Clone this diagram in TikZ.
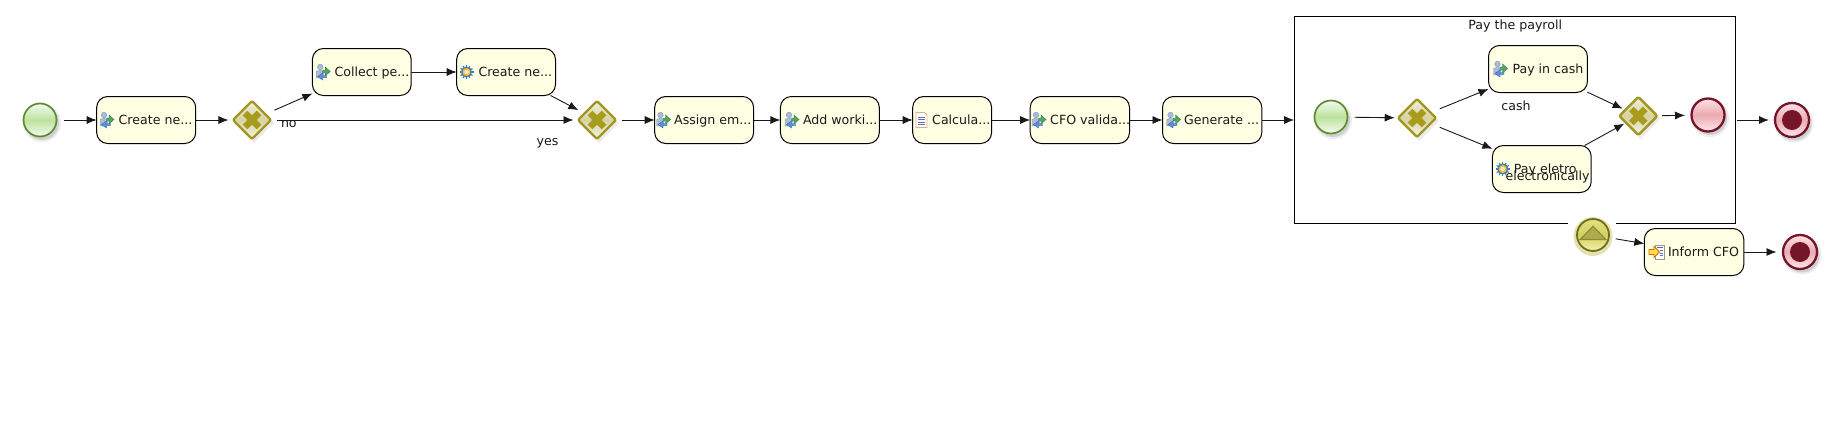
\documentclass[tikz,border=0pt]{standalone}
\usepackage{fontspec}
\setmainfont{DejaVu Sans}
\usetikzlibrary{shapes.geometric,arrows.meta}
\definecolor{taskfill}{HTML}{FFFFE4}
\definecolor{gwrim}{HTML}{A09620}
\definecolor{gwx}{HTML}{A89C1E}
\definecolor{endred}{HTML}{75152A}
\definecolor{startgreen}{HTML}{5F8A2F}
\definecolor{usrbody}{HTML}{A9BCDC}
\definecolor{usrline}{HTML}{8296B8}
\definecolor{usrgreen}{HTML}{4FA56A}
\definecolor{usrblue}{HTML}{5B8FE0}
\definecolor{gearblue}{HTML}{3F7FBF}
\tikzset{
  x=1pt,y=-1pt,
  lbl/.style={inner sep=0pt,outer sep=0pt,anchor=base west,font=\fontsize{12.6}{15}\selectfont,text=black!90},
  task/.style={draw=black,line width=1pt,fill=taskfill,rounded corners=11pt,minimum height=47pt,inner sep=0pt,outer sep=0pt},
  flow/.style={line width=.9pt,draw=black!90,-{Latex[length=10pt,width=8pt]}},
  gateway/.style={diamond,aspect=1,draw=gwrim,line width=2.4pt,rounded corners=2pt,minimum size=38pt,inner sep=0pt,outer sep=0pt,top color=gwrim!15!white,bottom color=gwrim!12!white,middle color=gwrim!42!white},
  startev/.style={circle,draw=startgreen,line width=1.7pt,minimum size=33pt,inner sep=0pt,outer sep=0pt,top color=green!40!olive!6!white,bottom color=green!40!olive!6!white,middle color=green!40!olive!38!white},
  endev/.style={circle,draw=endred,line width=2.3pt,minimum size=33pt,inner sep=0pt,outer sep=0pt,top color={rgb,255:red,253;green,226;blue,228},bottom color={rgb,255:red,253;green,232;blue,234},middle color={rgb,255:red,236;green,170;blue,178}},
  catchev/.style={circle,draw=olive!75!black,line width=1.8pt,minimum size=32pt,inner sep=0pt,outer sep=0pt,top color={rgb,255:red,226;green,226;blue,130},bottom color={rgb,255:red,242;green,242;blue,168},middle color={rgb,255:red,208;green,208;blue,96}},
  pics/usericon/.style={code={
    \fill[usrbody,draw=usrline,line width=.4pt] (-2.5,-5) circle (2.8);
    \fill[usrbody,draw=usrline,line width=.4pt] (-6.5,6) -- (-6.5,0) .. controls (-6.5,-2) and (1,-2) .. (1,0) -- (1,6) -- cycle;
    \fill[usrgreen,draw=usrgreen!70!black,line width=.4pt] (0,-2) -- (2.5,-2) -- (2.5,-5) -- (7.5,-.5) -- (2.5,4) -- (2.5,1) -- (0,1) -- cycle;
    \fill[usrblue,draw=usrblue!70!black,line width=.4pt] (4,3.5) -- (0,3.5) -- (0,1) -- (-5,4.5) -- (0,8) -- (0,5.5) -- (4,5.5) -- cycle;
  }},
  pics/gearicon/.style={code={
    \foreach \a in {0,30,...,330} \draw[gearblue,line width=1.1pt] (\a:4) -- (\a:7);
    \fill[gearblue] (0,0) circle (5.6);
    \fill[orange!60!yellow!85!white] (0,0) circle (4);
    \fill[orange!20!white] (0,0) circle (2.3);
  }},
  pics/scripticon/.style={code={
    \fill[white,draw=brown!60!white,line width=.8pt] (-5.5,-7.5) -- (3,-7.5) -- (5.5,-5) -- (5.5,7.5) -- (-5.5,7.5) -- cycle;
    \foreach \q in {-3,-.5,2,4.5} \draw[blue!40!gray!85!white,line width=1pt] (-3.5,\q) -- (3.5,\q);
  }},
  pics/sendicon/.style={code={
    \fill[white,draw=gray!80!white,line width=.7pt] (-2,-7) rectangle (7,7);
    \fill[blue!40!gray!90!white] (-.5,-5.5) rectangle (5.5,-4);
    \foreach \q in {-1.5,1,3.5} \draw[blue!40!gray!80!white,line width=1pt] (2.5,\q) -- (5.5,\q);
    \fill[orange!35!yellow!70!white,draw=orange!85!black,line width=.9pt] (-8,-2.5) -- (-3,-2.5) -- (-3,-5.5) -- (2.5,0) -- (-3,5.5) -- (-3,2.5) -- (-8,2.5) -- cycle;
  }},
}
\newcommand{\tasknode}[8]{% name,left,right,ymid,icon,iconx,textx,text
  \node[task,minimum width={(#3-#2)*1pt}] (#1) at ({(#2+#3)/2},#4) {};
  \pic at (#6,#4) {#5};
  \node[lbl] (#1-text) at (#7,#4+4.3) {#8};
}
\newcommand{\softdisc}[3]{%
  \fill[black,opacity=.07] (#1+2,#2+3) circle (#3+2);
  \fill[black,opacity=.12] (#1+2,#2+3) circle (#3);
}
\newcommand{\gatenode}[3]{% name,x,y
  \fill[black,opacity=.08] (#2+2,#3-19) -- (#2+22,#3+3) -- (#2+2,#3+23) -- (#2-18,#3+3) -- cycle;
  \node[gateway] (#1) at (#2,#3) {};
  \draw[gwx,line width=6.5pt] (#2-7,#3-7) -- (#2+7,#3+7);
  \draw[gwx,line width=6.5pt] (#2-7,#3+7) -- (#2+7,#3-7);
}
\begin{document}
\begin{tikzpicture}
\useasboundingbox (0,0) rectangle (1824,423);
\fill[white] (0,0) rectangle (1824,423);

% sub-process frame
\node[minimum width=441pt,minimum height=207pt,inner sep=0pt,outer sep=0pt] (sub) at (1514.7,120) {};
\draw[line width=1pt,black] (1568,223.5) -- (1294.2,223.5) -- (1294.2,16.5) -- (1735.2,16.5) -- (1735.2,223.5) -- (1615.9,223.5);
\node[lbl] (subtitle) at (1468.4,29) {Pay the payroll};

% main flow
\softdisc{40}{120}{17}
\node[startev] (s1) at (40,120) {};
\tasknode{t1}{96.7}{195.7}{120}{usericon}{106.5}{118.7}{Create ne...}
\gatenode{g1}{252}{120}
\tasknode{t2}{312.4}{411.2}{72}{usericon}{322.7}{334.5}{Collect pe...}
\tasknode{t3}{456.7}{555.5}{72}{gearicon}{466.5}{478.5}{Create ne...}
\gatenode{g2}{597}{120}
\tasknode{t4}{654.7}{753.6}{120}{usericon}{663}{674.2}{Assign em...}
\tasknode{t5}{780.4}{879.3}{120}{usericon}{791.5}{803}{Add worki...}
\tasknode{t6}{912.7}{991.6}{120}{scripticon}{921.5}{932.2}{Calcula...}
\tasknode{t7}{1030.2}{1129.5}{120}{usericon}{1038.5}{1050.2}{CFO valida...}
\tasknode{t8}{1162.5}{1261.8}{120}{usericon}{1173}{1184.2}{Generate ...}

% inside sub-process
\softdisc{1331}{117}{17}
\node[startev] (s2) at (1331,117) {};
\gatenode{g3}{1417}{118}
\tasknode{t9}{1488.5}{1587.4}{69}{usericon}{1500}{1512.5}{Pay in cash}
\tasknode{t10}{1492.4}{1591.2}{169}{gearicon}{1502.7}{1513.9}{Pay eletro}
\gatenode{g4}{1638.3}{116}
\softdisc{1708}{115}{17}
\node[endev] (e1) at (1708,115) {};

% end of main flow
\softdisc{1792}{120}{17.5}
\node[endev,minimum size=34pt] (e2) at (1792,120) {};
\fill[endred] (e2.center) circle (10);

% boundary path
\fill[olive!80!yellow,opacity=.3] (1593,236.5) circle (19.5);
\node[catchev] (c1) at (1593,235) {};
\fill[olive!45!yellow!55!gray,draw=olive!60!gray,line width=1.2pt] (1580.3,239.5) -- (1593,226.3) -- (1605.7,239.5) -- cycle;
\tasknode{t11}{1644.3}{1743.8}{252}{sendicon}{1657}{1668}{Inform CFO}
\softdisc{1800}{252}{17.5}
\node[endev,minimum size=34pt] (e3) at (1800,252) {};
\fill[endred] (e3.center) circle (10);

% flows
\draw[flow,shorten <=7pt] (s1) -- (t1);
\draw[flow,shorten >=4.5pt] (t1) -- (g1);
\draw[flow,shorten <=10pt] (g1) -- (t2);
\draw[flow] (t2) -- (t3);
\draw[flow,shorten >=7pt] (t3) -- (g2);
\draw[flow,shorten <=5.5pt,shorten >=4.5pt] (g1) -- (g2);
\draw[flow,shorten <=6pt] (g2) -- (t4);
\draw[flow] (t4) -- (t5);
\draw[flow] (t5) -- (t6);
\draw[flow] (t6) -- (t7);
\draw[flow] (t7) -- (t8);
\draw[flow] (t8) -- (sub.west);
\draw[flow,shorten <=7pt,shorten >=3.5pt] (s2) -- (g3);
\draw[flow,shorten <=10pt] (g3) -- (t9);
\draw[flow,shorten <=10pt] (g3) -- (t10);
\draw[flow,shorten >=3pt] (t9) -- (g4);
\draw[flow,shorten >=2pt] (t10) -- (g4);
\draw[flow,shorten <=5pt,shorten >=6.5pt] (g4) -- (e1);
\draw[flow,shorten <=1.5pt,shorten >=6pt] (sub.east) -- (e2);
\draw[flow,shorten <=7pt] (c1) -- (t11);
\draw[flow,shorten >=6.5pt] (t11) -- (e3);

% connector labels
\node[lbl] (lno) at (281,127.3) {no};
\node[lbl] (lyes) at (536.6,145) {yes};
\node[lbl] (lcash) at (1501.4,110.5) {cash};
\node[lbl] (lel) at (1505.5,180) {electronically};
\end{tikzpicture}
\end{document}
